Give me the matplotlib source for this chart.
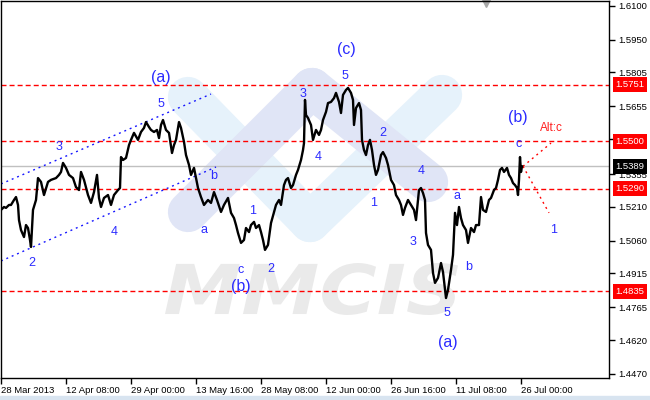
import matplotlib
matplotlib.use("Agg")
import matplotlib.pyplot as plt
import matplotlib.transforms as mtransforms
from matplotlib.lines import Line2D
from matplotlib.patches import Rectangle, PathPatch
from matplotlib.textpath import TextPath
from matplotlib.font_manager import FontProperties

plt.rcParams['font.family'] = ['Liberation Sans', 'DejaVu Sans']

# H4 bars (index) and close prices
bars = [0, 3, 5, 8, 10, 13, 15, 17, 18, 20, 23, 25, 27, 29, 30, 32, 35, 37, 40, 43,
        47, 50, 55, 58, 60, 62, 65, 68, 72, 75, 78, 80, 83, 87, 90, 93, 96, 98, 100, 103,
        107, 110, 113, 117, 119, 120, 122, 125, 128, 130, 133, 137, 140, 143, 145, 148, 150, 153, 156, 158,
        160, 162, 165, 168, 171, 173, 175, 178, 180, 183, 185, 188, 190, 193, 195, 197, 200, 203, 207, 210,
        213, 216, 220, 223, 227, 230, 233, 235, 237, 240, 243, 245, 248, 250, 253, 255, 258, 260, 262, 264,
        267, 270, 273, 275, 278, 280, 283, 285, 287, 290, 292, 295, 297, 300, 302, 303, 304, 305, 307, 310,
        312, 315, 318, 320, 322, 325, 327, 330, 333, 335, 338, 340, 342, 345, 347, 350, 352, 353, 355, 358,
        360, 361, 363, 365, 367, 369, 371, 373, 375, 377, 380, 382, 385, 387, 390, 393, 395, 398, 400, 402,
        404, 407, 410, 413, 415, 418, 420, 422, 424, 425, 427, 430, 432, 434, 437, 440, 442, 444, 445, 447,
        450, 452, 454, 456, 458, 460, 462, 465, 467, 470, 473, 475, 478, 480, 482, 485, 488, 490, 493, 495,
        497, 499, 501, 503, 506, 508, 510, 512, 514, 516, 517, 518, 519, 520, 521]
close = [1.5196, 1.5209, 1.5205, 1.5218, 1.5218, 1.5240, 1.5253, 1.5218, 1.5151, 1.5107,
         1.5076, 1.5129, 1.5116, 1.5063, 1.5032, 1.5196, 1.5240, 1.5337, 1.5320, 1.5262,
         1.5320, 1.5329, 1.5337, 1.5351, 1.5364, 1.5404, 1.5382, 1.5351, 1.5337, 1.5297,
         1.5284, 1.5364, 1.5329, 1.5262, 1.5227, 1.5275, 1.5351, 1.5249, 1.5209, 1.5249,
         1.5262, 1.5218, 1.5262, 1.5284, 1.5293, 1.5430, 1.5417, 1.5426, 1.5483, 1.5506,
         1.5537, 1.5506, 1.5541, 1.5559, 1.5585, 1.5563, 1.5550, 1.5541, 1.5550, 1.5514,
         1.5572, 1.5594, 1.5550, 1.5537, 1.5448, 1.5483, 1.5506, 1.5585, 1.5559, 1.5497,
         1.5439, 1.5395, 1.5351, 1.5382, 1.5337, 1.5293, 1.5253, 1.5218, 1.5240, 1.5227,
         1.5275, 1.5240, 1.5187, 1.5218, 1.5249, 1.5183, 1.5160, 1.5129, 1.5094, 1.5050,
         1.5063, 1.5116, 1.5098, 1.5129, 1.5143, 1.5116, 1.5129, 1.5098, 1.5063, 1.5019,
         1.5041, 1.5138, 1.5187, 1.5218, 1.5240, 1.5218, 1.5306, 1.5329, 1.5337, 1.5293,
         1.5306, 1.5351, 1.5373, 1.5417, 1.5461, 1.5492, 1.5683, 1.5616, 1.5603, 1.5572,
         1.5506, 1.5550, 1.5528, 1.5550, 1.5594, 1.5630, 1.5669, 1.5674, 1.5691, 1.5714,
         1.5674, 1.5625, 1.5705, 1.5727, 1.5736, 1.5714, 1.5683, 1.5572, 1.5647, 1.5669,
         1.5638, 1.5506, 1.5461, 1.5439, 1.5483, 1.5506, 1.5461, 1.5395, 1.5351, 1.5373,
         1.5439, 1.5452, 1.5426, 1.5395, 1.5329, 1.5306, 1.5262, 1.5240, 1.5218, 1.5174,
         1.5205, 1.5240, 1.5218, 1.5196, 1.5151, 1.5284, 1.5293, 1.5271, 1.5240, 1.5094,
         1.5041, 1.5019, 1.4917, 1.4873, 1.4895, 1.4961, 1.4921, 1.4842, 1.4806, 1.4842,
         1.4930, 1.4997, 1.5183, 1.5129, 1.5209, 1.5160, 1.5129, 1.5107, 1.5050, 1.5116,
         1.5098, 1.5129, 1.5129, 1.5253, 1.5196, 1.5187, 1.5240, 1.5249, 1.5284, 1.5293,
         1.5329, 1.5373, 1.5382, 1.5364, 1.5382, 1.5351, 1.5337, 1.5315, 1.5306, 1.5293,
         1.5262, 1.5329, 1.5430, 1.5364, 1.5389]

date_ticks = [0, 65, 130, 195, 260, 325, 390, 455, 520]
date_labels = ['28 Mar 2013', '12 Apr 08:00', '29 Apr 00:00', '13 May 16:00', '28 May 08:00',
               '12 Jun 00:00', '26 Jun 16:00', '11 Jul 08:00', '26 Jul 00:00']
price_ticks = [1.6100, 1.5950, 1.5805, 1.5655, 1.5510, 1.5355, 1.5210, 1.5060,
               1.4915, 1.4765, 1.4620, 1.4470]

levels = [1.5751, 1.5500, 1.5290, 1.4835]
last_price = 1.5389

# trend channel
upper_bars = [0, 210]
upper_prices = [1.5311, 1.5709]
lower_bars = [0, 215]
lower_prices = [1.4970, 1.5386]

# forecast paths
alt_bars = [522, 550]
alt_prices = [1.5389, 1.5492]
main_bars = [522, 548]
main_prices = [1.5389, 1.5183]

# wave marks
wave_text = ['(a)', '5', '3', '2', '4', 'b', 'a', 'c', '(b)', '1', '2', '3', '4', '(c)', '5',
             '2', '1', '4', '3', 'a', 'b', '5', '(a)', '(b)', 'c', '1']
wave_bar = [160, 160, 58, 31, 113, 213, 203, 240, 240, 252, 270, 302, 317, 345, 344,
            382, 373, 420, 412, 456, 468, 446, 447, 517, 518, 553]
wave_price = [1.5784, 1.5665, 1.5475, 1.4961, 1.5098, 1.5347, 1.5107, 1.4930, 1.4855, 1.5192,
              1.4934, 1.5709, 1.5430, 1.5904, 1.5789, 1.5537, 1.5227, 1.5368, 1.5054, 1.5258,
              1.4943, 1.4740, 1.4607, 1.5607, 1.5488, 1.5107]

fig = plt.figure(figsize=(6.5, 4), dpi=100)
ax = fig.add_axes([0.5 / 650, 22 / 400, 608.5 / 650, 377.5 / 400])
ax.set_xlim(-0.5, 608)
ax.set_ylim(1.4452, 1.6123)


# MMCIS watermark (drawn in figure pixels, top-left origin)
def px(x, y):
    return x / 650, 1 - y / 400


blue_band = '#e6f2fb'
lav_band = '#e0e5f6'
for (x0, y0), (x1, y1), col in [((188, 97), (310, 222), blue_band),
                                 ((310, 222), (442, 95), blue_band),
                                 ((188, 212), (312, 88), lav_band),
                                 ((312, 88), (428, 182), lav_band)]:
    a, b = px(x0, y0)
    c, d = px(x1, y1)
    ax.add_line(Line2D([a, c], [b, d], transform=fig.transFigure, color=col, lw=29,
                       solid_capstyle='round', zorder=0.3))

tp = TextPath((0, 0), 'MMCIS', size=1,
              prop=FontProperties(family='DejaVu Sans', weight='bold', style='italic'))
ext = tp.get_extents()
wx0, wx1, wy0, wy1 = 165, 458, 315, 263
sx = (wx1 - wx0) / ext.width
sy = (wy0 - wy1) / ext.height
wm_tr = (mtransforms.Affine2D().translate(-ext.x0, -ext.y0).scale(sx / 650, sy / 400)
         .translate(wx0 / 650, 1 - wy0 / 400) + fig.transFigure)
ax.add_patch(PathPatch(tp, transform=wm_tr, fc='#eaeaea', ec='none', zorder=0.4))

# levels
for lvl in levels:
    ax.axhline(lvl, color='red', lw=1, dashes=(3.6, 2.2), zorder=1)
ax.axhline(last_price, color='#c0c0c0', lw=1, zorder=1)

ax.plot(upper_bars, upper_prices, color='#1515ff', lw=1, dashes=(1.4, 2.8), zorder=1.5)
ax.plot(lower_bars, lower_prices, color='#1515ff', lw=1, dashes=(1.4, 2.8), zorder=1.5)
ax.plot(alt_bars, alt_prices, color='red', lw=1, dashes=(1.4, 2.8), zorder=1.5)
ax.plot(main_bars, main_prices, color='red', lw=1, dashes=(1.4, 2.8), zorder=1.5)

ax.plot(bars, close, color='black', lw=1.7, zorder=2)

for t, b, p in zip(wave_text, wave_bar, wave_price):
    fs = 11.5 if t.startswith('(') else 9
    ax.text(b, p, t, color='#2b2bff', fontsize=fs, ha='center', va='center', zorder=3)
ax.text(550, 1.5559, 'Alt:c', color='#ff2020', fontsize=8.5, ha='center', va='center', zorder=3)

# axes
for sp in ax.spines.values():
    sp.set_color('black')
    sp.set_linewidth(1)
ax.yaxis.tick_right()
ax.set_yticks(price_ticks)
# the 1.5510 label sits under the red 1.5500 box, so it is not drawn
ax.set_yticklabels(['' if abs(v - 1.5510) < 1e-6 else f'{v:.4f}' for v in price_ticks])
ax.set_xticks(date_ticks)
ax.set_xticklabels(date_labels)
for lbl in ax.get_xticklabels():
    lbl.set_ha('left')
ax.tick_params(axis='y', direction='out', length=4, width=1, pad=3, labelsize=6.8)
ax.tick_params(axis='x', direction='out', length=4, width=1, pad=2, labelsize=6.8)

# price labels on the scale
tr = mtransforms.blended_transform_factory(ax.transAxes, ax.transData)
for lvl in levels:
    ax.text(1.0105, lvl, f'{lvl:.4f}', transform=tr, color='white', fontsize=6.8,
            ha='left', va='center', clip_on=False, zorder=5,
            bbox=dict(boxstyle='square,pad=0.3', fc='red', ec='none'))
ax.text(1.0105, last_price, f'{last_price:.4f}', transform=tr, color='white', fontsize=6.8,
        ha='left', va='center', clip_on=False, zorder=5,
        bbox=dict(boxstyle='square,pad=0.3', fc='black', ec='none'))

# chart shift marker
trx = mtransforms.blended_transform_factory(ax.transData, ax.transAxes)
ax.plot([485], [0.993], marker='v', ms=6, color='#a8a8a8', transform=trx, clip_on=False)

fig.patches.append(Rectangle((0, 0), 1, 4 / 400, transform=fig.transFigure,
                             color='#d8e4f0', zorder=0))

fig.savefig('out.png', dpi=100)
